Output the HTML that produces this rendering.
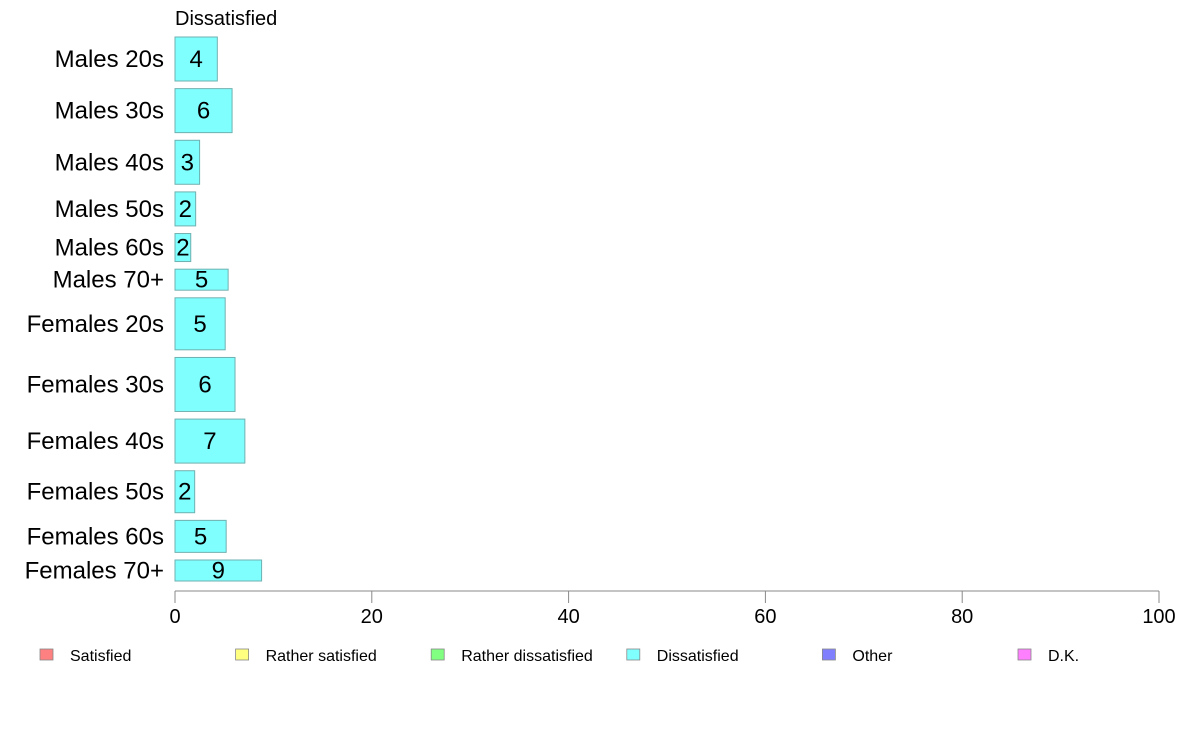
<!DOCTYPE html>
<html><head><meta charset="utf-8"><style>
body{margin:0;background:#fff;font-family:"Liberation Sans",Arial,sans-serif;}
svg text{font-family:"Liberation Sans",Arial,sans-serif;}
</style></head><body>
<svg id="chart" width="1188" height="736" xmlns="http://www.w3.org/2000/svg">
<text x="175" y="25" font-size="20" fill="#000">Dissatisfied</text>
<g id="bars"></g>
<g id="axis"></g>
<g id="legend"></g>
</svg>
<script>
const categories=["Males 20s","Males 30s","Males 40s","Males 50s","Males 60s","Males 70+","Females 20s","Females 30s","Females 40s","Females 50s","Females 60s","Females 70+"];
const values=[4.3,5.8,2.5,2.1,1.6,5.4,5.1,6.1,7.1,2.0,5.2,8.8];
const labels=["4","6","3","2","2","5","5","6","7","2","5","9"];
const sampleSizes=[44,44,44,34,28,21,52,54,44,42,32,21];
const ticks=[0,20,40,60,80,100];
const legendItems=["Satisfied","Rather satisfied","Rather dissatisfied","Dissatisfied","Other","D.K."];
const legendColors=["#ff8080","#ffff80","#80ff80","#80ffff","#8080ff","#ff80ff"];
const NS="http://www.w3.org/2000/svg";
const x0=175,x1=1159,yTop=37,yBot=581,gap=7.64;
const xs=v=>x0+(v/100)*(x1-x0);
const total=sampleSizes.reduce((a,b)=>a+b,0);
const k=(yBot-yTop-gap*(categories.length-1))/total;
function mk(t,a,p){const e=document.createElementNS(NS,t);for(const q in a)e.setAttribute(q,a[q]);p.appendChild(e);return e;}
const bars=document.getElementById('bars');
let y=yTop;
categories.forEach((c,i)=>{
  const h=sampleSizes[i]*k;
  const r=mk('rect',{x:x0,y:y,width:xs(values[i])-x0,height:h,fill:'#80ffff',stroke:'#6fb0b0','stroke-width':1},bars);
  
  
  const t=mk('text',{x:(x0+xs(values[i]))/2,y:y+h/2+8,'font-size':24,'text-anchor':'middle',fill:'#000'},bars);
  t.textContent=labels[i];
  
  
  const l=mk('text',{x:164,y:y+h/2+8,'font-size':24,'text-anchor':'end',fill:'#000'},bars);
  l.textContent=c;
  
  
  y+=h+gap;
});
const ax=document.getElementById('axis');
const al=mk('line',{x1:x0,x2:x1,y1:591,y2:591,stroke:'#888','stroke-width':1},ax);


ticks.forEach(v=>{
  const tl=mk('line',{x1:xs(v),x2:xs(v),y1:591,y2:603,stroke:'#888','stroke-width':1},ax);
  
  
  const tt=mk('text',{x:xs(v),y:623,'font-size':20,'text-anchor':'middle',fill:'#000'},ax);
  tt.textContent=v;
  
  
});
const lg=document.getElementById('legend');
legendItems.forEach((n,i)=>{
  const lx=40+i*195.6;
  const s=mk('rect',{x:lx,y:649,width:13,height:11,fill:legendColors[i],stroke:'#888','stroke-width':0.8},lg);
  
  
  const t=mk('text',{x:lx+30,y:661,'font-size':16,fill:'#000'},lg);
  t.textContent=n;
  
  
});
</script>
</body></html>
